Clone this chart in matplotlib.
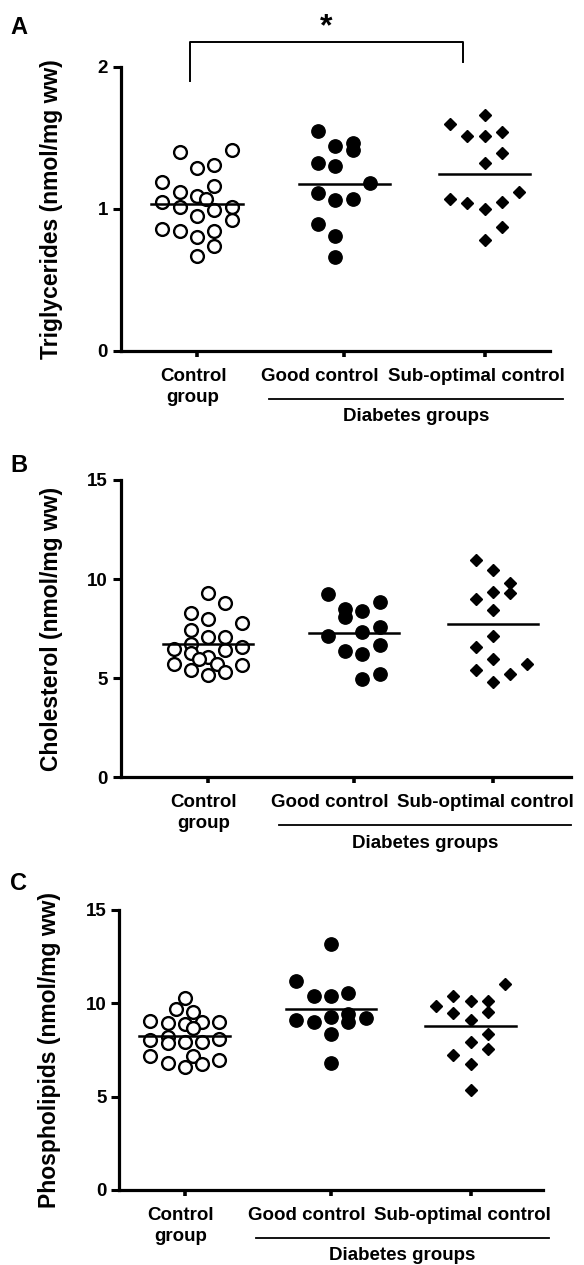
import numpy as np
import matplotlib.pyplot as plt
from matplotlib import transforms

plt.rcParams['font.family'] = ['Liberation Sans', 'DejaVu Sans']
plt.rcParams['font.weight'] = 'bold'

# categories
groups = ["Control\ngroup", "Good control", "Sub-optimal control"]

# A: triglycerides (nmol/mg ww)
tg_control = [1.40, 1.41, 1.29, 1.31, 1.19, 1.16, 1.12, 1.09, 1.07, 1.05, 1.01,
              0.99, 1.01, 0.95, 0.92, 0.86, 0.84, 0.84, 0.80, 0.74, 0.67]
tg_good = [1.55, 1.44, 1.46, 1.41, 1.32, 1.30, 1.18, 1.11, 1.06, 1.07, 0.89, 0.81, 0.66]
tg_subopt = [1.66, 1.60, 1.51, 1.51, 1.54, 1.39, 1.32, 1.12, 1.07, 1.04, 1.00, 1.05, 0.87, 0.78]

# B: cholesterol (nmol/mg ww)
chol_control = [9.28, 8.78, 8.27, 8.00, 7.80, 7.43, 7.10, 7.10, 6.73, 6.59, 6.46,
                6.26, 6.42, 6.09, 5.95, 5.72, 5.72, 5.68, 5.41, 5.31, 5.15]
chol_good = [9.25, 8.85, 8.51, 8.41, 8.07, 7.60, 7.13, 7.33, 6.68, 6.39, 6.22, 5.21, 4.94]
chol_subopt = [10.96, 10.46, 9.79, 9.37, 9.28, 8.98, 8.44, 7.13, 6.59, 5.95, 5.72, 5.41, 5.20, 4.83]

# C: phospholipids (nmol/mg ww)
phos_control = [10.30, 9.68, 9.55, 9.07, 8.93, 8.89, 9.02, 9.02, 8.70, 8.04, 8.21,
                7.86, 7.95, 7.95, 8.07, 7.20, 7.20, 6.96, 6.79, 6.61, 6.77]
phos_good = [13.18, 11.20, 10.41, 10.41, 10.54, 9.11, 9.02, 9.29, 9.41, 9.02, 9.20, 8.34, 6.79]
phos_subopt = [11.02, 10.41, 9.88, 10.13, 10.13, 9.46, 9.55, 9.11, 8.34, 7.95, 7.23, 7.55, 6.73, 5.36]

# horizontal scatter columns (layout only, in marker-column steps)
tg_cols = [[-1, 2, 0, 1, -2, 1, -1, 0, 0.5, -2, -1, 1, 2, 0, 2, -2, -1, 1, 0, 1, 0],
           [-1.5, -0.5, 0.5, 0.5, -1.5, -0.5, 1.5, -1.5, -0.5, 0.5, -1.5, -0.5, -0.5],
           [0, -2, -1, 0, 1, 1, 0, 2, -2, -1, 0, 1, 1, 0]]
chol_cols = [[0, 1, -1, 0, 2, -1, 0, 1, -1, 2, -2, -1, 1, 0, -0.5, -2, 0.5, 2, -1, 1, 0],
             [-1.5, 1.5, -0.5, 0.5, -0.5, 1.5, -1.5, 0.5, 1.5, -0.5, 0.5, 1.5, 0.5],
             [-1, 0, 1, 0, 1, -1, 0, 0, -1, 0, 2, -1, 1, 0]]
phos_cols = [[0, -0.5, 0.5, -2, -1, 0, 1, 2, 0.5, -2, -1, -1, 0, 1, 2, -2, 0.5, 2, -1, 0, 1],
             [0, -2, -1, 0, 1, -2, -1, 0, 1, 1, 2, 0, 0],
             [2, -1, -2, 0, 1, -1, 1, 0, 1, 0, -1, 1, 0, 0]]

positions = [0, 1, 1.955]
col_step = 0.118
label_shift_px = [-4, -24, -8]   # category labels nudged sideways so they do not collide

styles = [dict(marker='o', mfc='white', mec='black', mew=1.7, ms=9.2),
          dict(marker='o', mfc='black', mec='black', mew=1, ms=9.6),
          dict(marker='D', mfc='black', mec='black', mew=1, ms=6.6)]

W, H = 584, 1265
fig = plt.figure(figsize=(W / 100, H / 100), dpi=100)

panels = [
    dict(letter='A', ylabel='Triglycerides (nmol/mg ww)', data=[tg_control, tg_good, tg_subopt],
         cols=tg_cols, box=(120.6, 550, 66.7, 350.7), xlim=(-0.52, 2.40), ylim=(0, 2),
         yticks=[0, 1, 2], letter_xy=(10, 27)),
    dict(letter='B', ylabel='Cholesterol (nmol/mg ww)', data=[chol_control, chol_good, chol_subopt],
         cols=chol_cols, box=(120.6, 571, 480, 777.3), xlim=(-0.60, 2.49), ylim=(0, 15),
         yticks=[0, 5, 10, 15], letter_xy=(10, 466)),
    dict(letter='C', ylabel='Phospholipids (nmol/mg ww)', data=[phos_control, phos_good, phos_subopt],
         cols=phos_cols, box=(119, 543, 910, 1190), xlim=(-0.45, 2.45), ylim=(0, 15),
         yticks=[0, 5, 10, 15], letter_xy=(10, 884)),
]

for p in panels:
    l, r, t, b = p['box']
    ax = fig.add_axes([l / W, 1 - b / H, (r - l) / W, (b - t) / H])
    for i, (vals, cols) in enumerate(zip(p['data'], p['cols'])):
        x = positions[i] + np.array(cols) * col_step
        ax.plot(x, vals, linestyle='none', clip_on=False, zorder=3, **styles[i])
        m = np.mean(vals)
        ax.plot([positions[i] - 0.31, positions[i] + 0.31], [m, m], color='black', lw=1.8, zorder=4)

    ax.set_xlim(*p['xlim'])
    ax.set_ylim(*p['ylim'])
    ax.set_yticks(p['yticks'])
    ax.set_xticks(positions)
    ax.set_xticklabels([])
    for s in ['top', 'right']:
        ax.spines[s].set_visible(False)
    for s in ['left', 'bottom']:
        ax.spines[s].set_linewidth(2.3)
    ax.tick_params(axis='y', direction='out', length=6, width=2.2, labelsize=13.5, pad=3)
    ax.tick_params(axis='x', direction='out', length=4, width=2.6)
    for lab in ax.get_yticklabels():
        lab.set_fontweight('bold')
    ax.set_ylabel(p['ylabel'], fontsize=16.5, fontweight='bold')
    ax.yaxis.set_label_coords(-58 / (r - l), 0.5)

    blend = transforms.blended_transform_factory(ax.transData, ax.transAxes)
    for pos, name, dx in zip(positions, groups, label_shift_px):
        tr = blend + transforms.ScaledTranslation(dx / 100, -17 / 100, fig.dpi_scale_trans)
        ax.text(pos, 0, name, transform=tr, ha='center', va='top', fontsize=13.5,
                fontweight='bold', linespacing=1.3, multialignment='center')

    # line and label grouping the two diabetes groups
    line_tr = blend + transforms.ScaledTranslation(0, -48 / 100, fig.dpi_scale_trans)
    ax.plot([0.49, 2.49], [0, 0], color='black', lw=1.3, transform=line_tr, clip_on=False)
    txt_tr = blend + transforms.ScaledTranslation(0, -66 / 100, fig.dpi_scale_trans)
    ax.text(1.49, 0, 'Diabetes groups', transform=txt_tr, ha='center', va='center',
            fontsize=13.5, fontweight='bold')

    fig.text(p['letter_xy'][0] / W, 1 - p['letter_xy'][1] / H, p['letter'],
             fontsize=17, fontweight='bold', ha='left', va='center')

    if p['letter'] == 'A':
        x0, x1 = -0.05, 1.81
        ax.plot([x0, x0, x1, x1], [1.90, 2.176, 2.176, 2.035], color='black', lw=1.4, clip_on=False)
        ax.text((x0 + x1) / 2, 2.28, '*', ha='center', va='center', fontsize=23, fontweight='bold')

fig.savefig('out.png', dpi=100)
